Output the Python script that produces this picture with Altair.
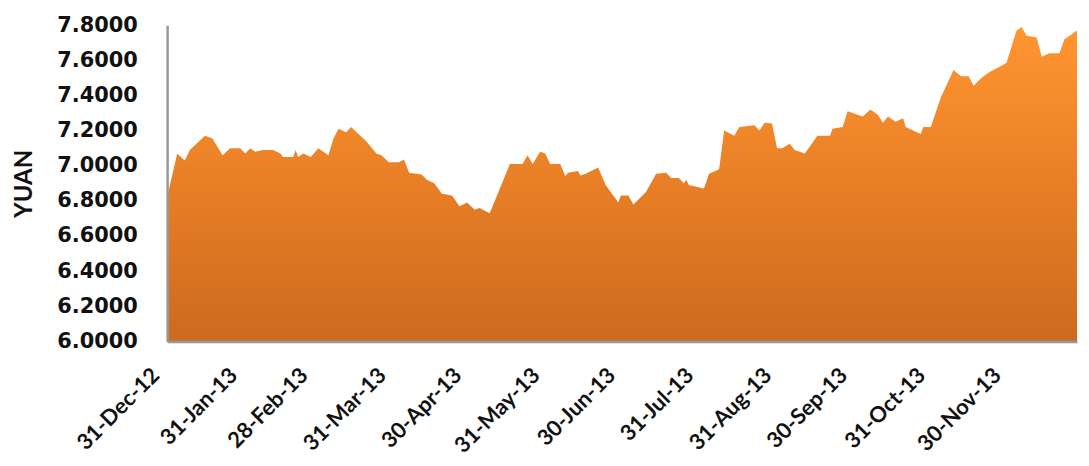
import altair as alt
import pandas as pd

# days since 31-Dec-2012 and CNY values
day_offsets = [0, 4, 7, 9, 15, 18, 22, 25, 29, 31, 33, 35, 38, 42, 45, 46, 50, 51, 52, 54,
               57, 60, 62, 64, 66, 68, 71, 73, 79, 83, 85, 88, 92, 94, 96, 101, 103, 106, 107, 109,
               113, 116, 119, 122, 124, 128, 136, 141, 143, 145, 148, 150, 152, 156, 158, 159, 163, 164, 166, 171,
               174, 179, 180, 183, 185, 190, 194, 198, 200, 203, 205, 206, 207, 213, 215, 219, 221, 225, 227, 233,
               235, 237, 240, 242, 244, 247, 249, 253, 258, 263, 264, 268, 270, 276, 279, 282, 284, 286, 289, 292,
               293, 299, 300, 303, 307, 312, 315, 318, 320, 323, 326, 333, 337, 339, 341, 345, 347, 350, 354, 356, 361]
yuan = [6.82, 7.07, 7.03, 7.09, 7.17, 7.155, 7.06, 7.10, 7.10, 7.07, 7.10, 7.08, 7.09, 7.09, 7.07, 7.05, 7.05, 7.09, 7.05, 7.07,
        7.05, 7.10, 7.08, 7.06, 7.155, 7.21, 7.19, 7.22, 7.14, 7.07, 7.06, 7.02, 7.02, 7.035, 6.96, 6.95, 6.92, 6.90, 6.88, 6.84,
        6.83, 6.77, 6.79, 6.75, 6.76, 6.73, 7.01, 7.01, 7.06, 7.01, 7.08, 7.07, 7.01, 7.01, 6.94, 6.96, 6.97, 6.945, 6.955, 6.99,
        6.89, 6.79, 6.83, 6.83, 6.78, 6.85, 6.955, 6.96, 6.93, 6.93, 6.90, 6.92, 6.89, 6.87, 6.955, 6.98, 7.20, 7.17, 7.22, 7.23,
        7.20, 7.245, 7.24, 7.10, 7.10, 7.125, 7.09, 7.07, 7.17, 7.17, 7.21, 7.22, 7.31, 7.28, 7.32, 7.29, 7.245, 7.28, 7.25, 7.27,
        7.22, 7.18, 7.22, 7.22, 7.39, 7.545, 7.51, 7.51, 7.455, 7.50, 7.53, 7.585, 7.77, 7.79, 7.74, 7.73, 7.62, 7.64, 7.64, 7.72, 7.77]

tick_dates = ["2012-12-31", "2013-01-31", "2013-02-28", "2013-03-31", "2013-04-30", "2013-05-31",
              "2013-06-30", "2013-07-31", "2013-08-31", "2013-09-30", "2013-10-31", "2013-11-30"]
y_ticks = [6.0, 6.2, 6.4, 6.6, 6.8, 7.0, 7.2, 7.4, 7.6, 7.8]

base_date = pd.Timestamp("2012-12-31")
df = pd.DataFrame({
    "date": [base_date + pd.Timedelta(days=d) for d in day_offsets],
    "yuan": yuan,
})

tick_vals = [alt.DateTime(year=int(t[:4]), month=int(t[5:7]), date=int(t[8:10])) for t in tick_dates]

chart = alt.Chart(df).mark_area(
    line=False,
    clip=True,
    color=alt.Gradient(
        gradient="linear",
        stops=[alt.GradientStop(color="#FF9631", offset=0),
               alt.GradientStop(color="#E87F26", offset=0.5),
               alt.GradientStop(color="#CC6A1F", offset=1)],
        x1=1, x2=1, y1=0, y2=1,
    ),
).encode(
    x=alt.X("date:T",
            scale=alt.Scale(domain=[alt.DateTime(year=2012, month=12, date=31),
                                    alt.DateTime(year=2013, month=12, date=27)], nice=False),
            axis=alt.Axis(values=tick_vals, format="%d-%b-%y", labelAngle=-45,
                          labelAlign="right", labelBaseline="middle",
                          labelFont="Lato", labelFontWeight="bold", labelFontSize=22,
                          labelColor="#111111", labelPadding=30, labelOffset=-12,
                          ticks=False, grid=False, domainColor="#999999", domainWidth=2.5,
                          title=None, labelOverlap=False, labelFlush=False, zindex=1)),
    y=alt.Y("yuan:Q",
            scale=alt.Scale(domain=[6.0, 7.8], nice=False, zero=False),
            axis=alt.Axis(values=y_ticks, format=".4f", title="YUAN",
                          labelFont="DejaVu Sans", labelFontWeight="bold", labelFontSize=21,
                          labelColor="#111111", labelPadding=30,
                          titleFont="Lato", titleFontWeight="bold", titleFontSize=24,
                          titleColor="#111111", titlePadding=20,
                          ticks=False, grid=False, domainColor="#999999", domainWidth=2.5, zindex=1)),
    y2=alt.datum(6.0),
).properties(
    width=915,
    height=318,
    padding={"left": 160, "top": 16, "right": 4, "bottom": 123},
    autosize=alt.AutoSizeParams(type="none"),
).configure_view(stroke=None)

chart.save("out.html", embed_options={"renderer": "svg", "actions": False})
